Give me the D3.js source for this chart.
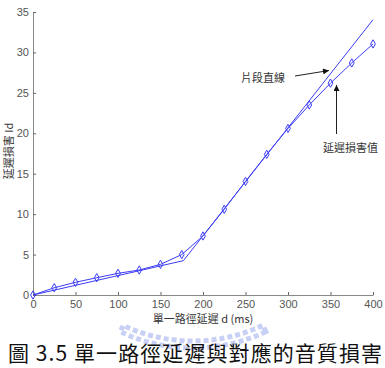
<!DOCTYPE html>
<html>
<head>
<meta charset="utf-8">
<script src="https://cdn.jsdelivr.net/npm/d3@7"></script>
<style>
  body { margin: 0; background: #fff; }
  svg { display: block; }
  .tick text { font-family: "Liberation Sans", Arial, sans-serif; font-size: 11px; fill: #555; }
  .axis-label { font-family: "Noto Sans CJK TC", "Liberation Sans", sans-serif; font-size: 11px; fill: #333; }
  .note { font-family: "Noto Sans CJK TC", sans-serif; font-size: 11px; fill: #333; }
</style>
</head>
<body>
<svg id="chart" width="385" height="368"></svg>
<script>
// measured delay impairment (diamonds)
var delays = [0, 25, 50, 75, 100, 125, 150, 175, 200, 225, 250, 275, 300, 325, 350, 375, 400];
var impairment = [0, 0.9, 1.57, 2.14, 2.68, 3.09, 3.79, 5.0, 7.3, 10.6, 14.05, 17.4, 20.6, 23.5, 26.2, 28.7, 31.05];

// piecewise straight line
var lineDelays = [0, 177, 400];
var lineValues = [0, 4.25, 34.05];

var xTicks = [0, 50, 100, 150, 200, 250, 300, 350, 400];
var yTicks = [0, 5, 10, 15, 20, 25, 30, 35];

var svg = d3.select("#chart");

var x = d3.scaleLinear().domain([0, 400]).range([33, 373]);
var y = d3.scaleLinear().domain([0, 35]).range([295, 12]);

//Faint watermark behind the caption
svg.append("path")
  .attr("d", d3.arc()({innerRadius: 164, outerRadius: 171, startAngle: Math.PI * 0.86, endAngle: Math.PI * 1.14}))
  .attr("transform", "translate(193,177)")
  .style("fill", "none")
  .style("stroke", "#c9d0f5")
  .style("stroke-width", 5)
  .style("stroke-dasharray", "5,3");

//Axes
var xAxis = svg.append("g")
  .attr("transform", "translate(0," + y(0) + ")")
  .call(d3.axisBottom(x).tickValues(xTicks).tickSizeInner(-3).tickSizeOuter(0).tickPadding(5));

var yAxis = svg.append("g")
  .attr("transform", "translate(" + x(0) + ",0)")
  .call(d3.axisLeft(y).tickValues(yTicks).tickSizeInner(-3).tickSizeOuter(0).tickPadding(4));

[xAxis, yAxis].forEach(function(g){
  g.select(".domain").style("stroke", "#888");
  g.selectAll(".tick line").style("stroke", "#666");
  g.attr("font-family", null).attr("font-size", null);
});

svg.append("text")
  .attr("class", "axis-label")
  .attr("x", 203)
  .attr("y", 323)
  .attr("text-anchor", "middle")
  .text("單一路徑延遲 d (ms)");

svg.append("text")
  .attr("class", "axis-label")
  .attr("transform", "translate(13,151) rotate(-90)")
  .attr("text-anchor", "middle")
  .text("延遲損害 Id");

//Lines
var blue = "#3c3cf5";

var pieceLine = d3.line()
  .x(function(d, i) { return x(lineDelays[i]); })
  .y(function(d) { return y(d); });

svg.append("path")
  .datum(lineValues)
  .attr("d", pieceLine)
  .style("fill", "none")
  .style("stroke", blue)
  .style("stroke-width", 1);

var measLine = d3.line()
  .x(function(d, i) { return x(delays[i]); })
  .y(function(d) { return y(d); });

svg.append("path")
  .datum(impairment)
  .attr("d", measLine)
  .style("fill", "none")
  .style("stroke", blue)
  .style("stroke-width", 1);

svg.selectAll(".marker")
  .data(impairment)
  .enter().append("path")
  .attr("class", "marker")
  .attr("d", d3.symbol().type(d3.symbolDiamond).size(20))
  .attr("transform", function(d, i) { return "translate(" + x(delays[i]) + "," + y(d) + ")"; })
  .style("fill", "none")
  .style("stroke", blue)
  .style("stroke-width", 1);

//Annotations
svg.append("defs").append("marker")
  .attr("id", "arrow")
  .attr("viewBox", "0 0 10 10")
  .attr("refX", 10).attr("refY", 5)
  .attr("markerWidth", 8).attr("markerHeight", 6)
  .attr("markerUnits", "userSpaceOnUse")
  .attr("orient", "auto")
  .append("path")
  .attr("d", "M0,0L10,5L0,10Z")
  .style("fill", "#111");

svg.append("text")
  .attr("class", "note")
  .attr("x", 241)
  .attr("y", 82)
  .text("片段直線");

svg.append("line")
  .attr("x1", 295).attr("y1", 76)
  .attr("x2", 329).attr("y2", 70.5)
  .style("stroke", "#222")
  .attr("marker-end", "url(#arrow)");

svg.append("text")
  .attr("class", "note")
  .attr("x", 323)
  .attr("y", 152)
  .text("延遲損害值");

svg.append("line")
  .attr("x1", 336.5).attr("y1", 134)
  .attr("x2", 336.5).attr("y2", 85)
  .style("stroke", "#222")
  .attr("marker-end", "url(#arrow)");

//Caption
svg.append("text")
  .attr("x", 8)
  .attr("y", 361)
  .attr("textLength", 374)
  .attr("lengthAdjust", "spacing")
  .style("font-family", "'Noto Sans CJK TC', sans-serif")
  .style("font-size", "21px")
  .style("fill", "#111")
  .text("圖 3.5 單一路徑延遲與對應的音質損害");
</script>
</body>
</html>
